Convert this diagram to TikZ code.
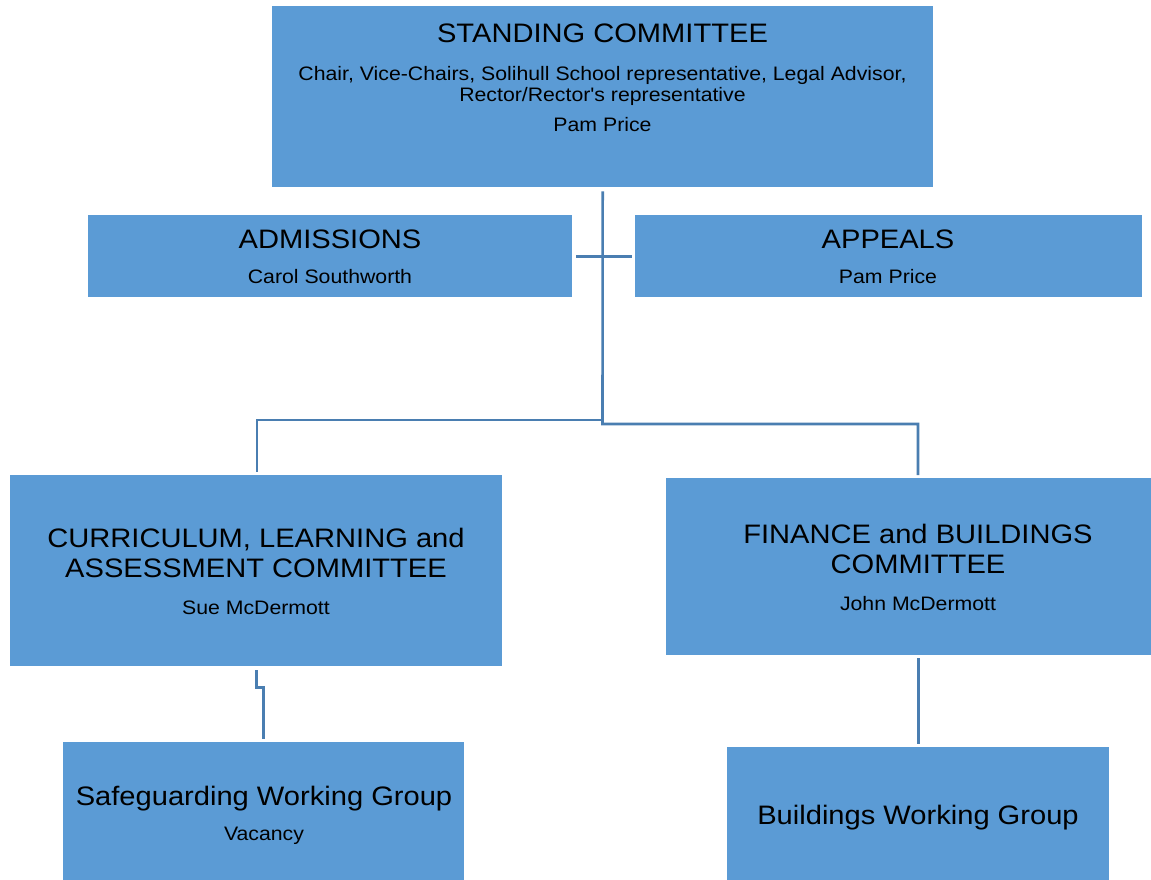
\documentclass[tikz,border=0pt]{standalone}
\usepackage{fontspec}
\setmainfont{Liberation Sans}
\newfontfamily\arialish{Liberation Sans}[FakeStretch=1.09]
\definecolor{boxblue}{HTML}{5B9BD5}
\definecolor{lineblue}{HTML}{4A7EB1}
\begin{document}
\begin{tikzpicture}[x=1pt,y=-1pt,
  box/.style={fill=boxblue, draw=none, inner sep=0pt, anchor=north west},
  conn/.style={draw=lineblue, line width=2.6pt},
  big/.style={anchor=base, inner sep=0pt, font=\arialish\fontsize{26.7}{30}\selectfont},
  small/.style={anchor=base, inner sep=0pt, font=\arialish\fontsize{19.5}{21}\selectfont}]
\useasboundingbox (0,0) rectangle (1151,879);
% boxes
\node[box, minimum width=661pt, minimum height=181pt] (std) at (272,6) {};
\node[box, minimum width=484pt, minimum height=82pt] (adm) at (88,215) {};
\node[box, minimum width=507pt, minimum height=82pt] (app) at (635,215) {};
\node[box, minimum width=492pt, minimum height=191pt] (cur) at (10,475) {};
\node[box, minimum width=485pt, minimum height=177pt] (fin) at (666,478) {};
\node[box, minimum width=401pt, minimum height=140pt] (saf) at (63,742) {};
\node[box, minimum width=382pt, minimum height=135pt] (bld) at (727,747) {};
% texts
\node[big] (stdT) at (602.5,42.5) {STANDING COMMITTEE};
\node[small] (stdA) at (602.5,80) {Chair, Vice-Chairs, Solihull School representative, Legal Advisor,};
\node[small] (stdB) at (602.5,101) {Rector/Rector's representative};
\node[small] (stdC) at (602.5,131) {Pam Price};
\node[big] (admT) at (330,248) {ADMISSIONS};
\node[small] (admN) at (330,283) {Carol Southworth};
\node[big] (appT) at (888,248) {APPEALS};
\node[small] (appN) at (888,283) {Pam Price};
\node[big] (curA) at (256,547.5) {CURRICULUM, LEARNING and};
\node[big] (curB) at (256,577.5) {ASSESSMENT COMMITTEE};
\node[small] (curN) at (256,614) {Sue McDermott};
\node[big] (finA) at (918,543.5) {FINANCE and BUILDINGS};
\node[big] (finB) at (918,573.5) {COMMITTEE};
\node[small] (finN) at (918,610) {John McDermott};
\node[big] (safT) at (264,805.5) {Safeguarding Working Group};
\node[small] (safN) at (264,840) {Vacancy};
\node[big] (bldT) at (918,824.5) {Buildings Working Group};
% junctions
\coordinate (hubL) at (602.5,420);
\coordinate (hubR) at (602.5,424);
\coordinate (curTop) at (257,472);
\coordinate (finTop) at (918,475);
% connectors
\draw[conn] ([yshift=-4pt]std.south) -- (hubR) -- (finTop |- hubR) -- (finTop);
\draw[conn] (hubL) -| (curTop);
\draw[conn] ([xshift=4pt]adm.east) -- ([xshift=-3pt]app.west);
\draw[conn] ([yshift=-4pt]cur.south) -- ++(0,17) -| ([yshift=3pt]saf.north);
\draw[conn] ([yshift=-3pt]fin.south -| bld.north) -- ([yshift=3pt]bld.north);
\end{tikzpicture}
\end{document}
